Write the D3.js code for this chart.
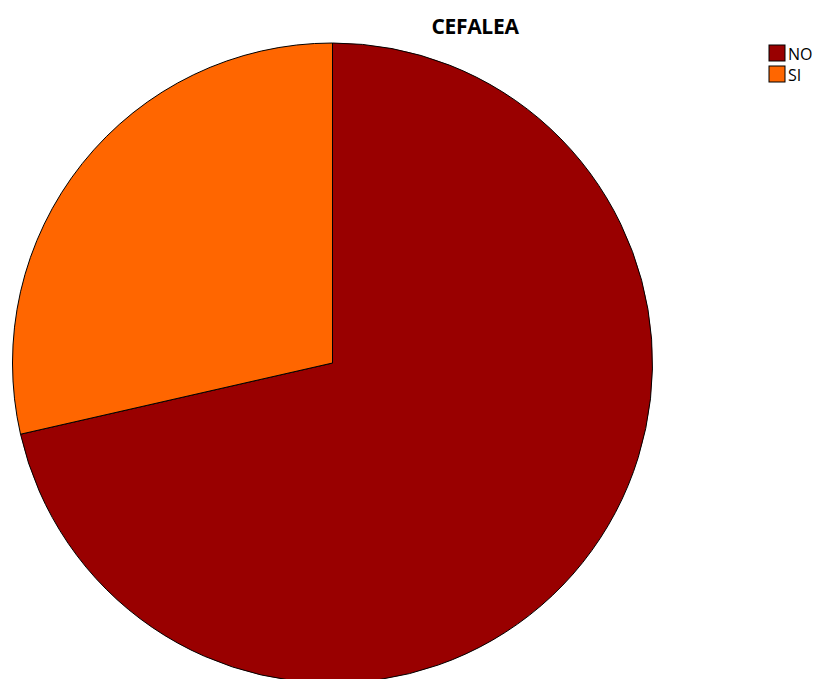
<!DOCTYPE html>
<html>
<head>
<meta charset="utf-8">
<script src="https://cdn.jsdelivr.net/npm/d3@7"></script>
<style>
  html, body { margin: 0; padding: 0; background: #fff; }
  svg { display: block; }
</style>
</head>
<body>
<svg id="chart" width="821" height="679"></svg>
<script>
// Frequencies of headache (CEFALEA) answers
const categories = ["NO", "SI"];
const counts = [25, 10];
const colors = ["#990000", "#FF6600"];

const svg = d3.select("#chart");
const cx = 332.5, cy = 363, radius = 320;

const data = categories.map((c, i) => ({ label: c, value: counts[i], color: colors[i] }));

const pie = d3.pie().value(d => d.value).sort(null);
const arc = d3.arc().innerRadius(0).outerRadius(radius);

const g = svg.append("g").attr("transform", `translate(${cx},${cy})`);
g.selectAll("path")
  .data(pie(data))
  .join("path")
  .attr("d", arc)
  .attr("fill", d => d.data.color)
  .attr("stroke", "#000")
  .attr("stroke-width", 1)
  .attr("stroke-linejoin", "round");

// Title
svg.append("text")
  .attr("x", 475)
  .attr("y", 34)
  .attr("text-anchor", "middle")
  .attr("font-family", "'Open Sans', sans-serif")
  .attr("font-weight", "bold")
  .attr("font-size", 21)
  .attr("letter-spacing", -0.3)
  .attr("fill", "#000")
  .text("CEFALEA");

// Legend
const legend = svg.append("g").attr("transform", "translate(769,45)");
const item = legend.selectAll("g")
  .data(data)
  .join("g")
  .attr("transform", (d, i) => `translate(0,${i * 21})`);
item.append("rect")
  .attr("width", 16)
  .attr("height", 16)
  .attr("fill", d => d.color)
  .attr("stroke", "#000")
  .attr("stroke-width", 1);
item.append("text")
  .attr("x", 19)
  .attr("y", 14.5)
  .attr("font-family", "'Open Sans', sans-serif")
  .attr("font-size", 16)
  .attr("fill", "#000")
  .text(d => d.label);
</script>
</body>
</html>
